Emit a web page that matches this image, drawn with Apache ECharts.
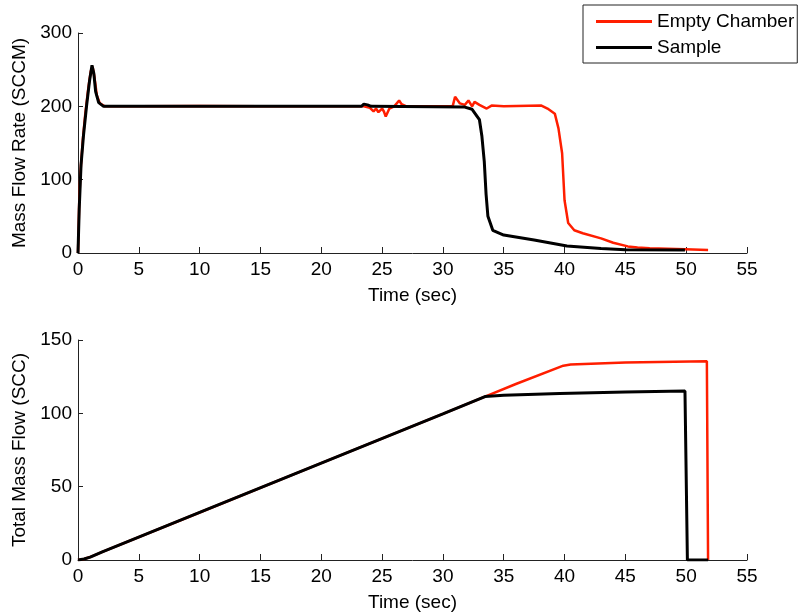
<!DOCTYPE html>
<html>
<head>
<meta charset="utf-8">
<script src="https://cdn.jsdelivr.net/npm/echarts@6/dist/echarts.min.js"></script>
<style>
  html, body { margin: 0; padding: 0; background: #fff; }
  #chart { width: 801px; height: 616px; }
</style>
</head>
<body>
<div id="chart"></div>
<script>
// Flow rate through the chamber (SCCM) versus time (sec)
const emptyRateT = [0, 0.1, 0.2, 0.4, 0.6, 0.85, 1.05, 1.2, 1.35, 1.55, 1.8, 2.2, 5, 10, 15, 20, 23.5, 24.0, 24.3, 24.5, 24.7, 24.85, 25.0, 25.15, 25.3, 25.6, 26.0, 26.4, 26.6, 27.0, 28, 30.8, 31.0, 31.4, 31.8, 32.1, 32.4, 32.6, 33.0, 33.6, 34.0, 35, 38.1, 38.6, 39.2, 39.5, 39.8, 40.0, 40.3, 40.8, 41.5, 43, 44, 45.2, 46, 47, 49.9, 51.8];
const emptyRate  = [0, 70, 110, 155, 190, 225, 248, 254, 240, 215, 204, 200, 200, 200.5, 200, 200, 200, 198, 193, 197, 192, 190, 197, 193, 186, 197, 200, 208, 203, 200, 200, 200, 213, 204, 202, 208, 200, 206, 202, 197, 201, 200, 201, 197, 190, 170, 136, 72, 41, 31, 27, 20, 14, 9, 7.5, 6.5, 5, 4];

const sampleRateT = [0, 0.1, 0.25, 0.45, 0.7, 0.95, 1.15, 1.3, 1.45, 1.7, 2.1, 10, 20, 23.3, 23.5, 23.8, 24.1, 31.8, 32.4, 33.0, 33.2, 33.4, 33.55, 33.7, 34.1, 35, 37.5, 40.2, 43, 45, 49.9];
const sampleRate  = [0, 60, 120, 160, 200, 235, 256, 245, 220, 205, 200, 200, 200, 200, 203, 202, 200, 199, 196, 182, 160, 125, 80, 50, 31, 24.5, 17.7, 9.5, 6, 4.5, 4];

// Accumulated flow (SCC) versus time (sec)
const emptyTotalT = [0, 0.5, 1, 2, 10, 20, 30, 33.46, 36, 39.9, 40.5, 45, 51.7, 51.8];
const emptyTotal  = [0, 0.7, 2, 5.5, 32.4, 66, 99.6, 111.4, 120, 132.5, 133.3, 134.6, 135.5, 0];

const sampleTotalT = [0, 0.5, 1, 2, 10, 20, 30, 33.46, 35, 39.6, 45, 49.9, 50.1, 51.8];
const sampleTotal  = [0, 0.7, 2, 5.5, 32.4, 66, 99.6, 111.4, 112.3, 113.6, 114.5, 115.2, 0, 0];

const seriesNames = ['Empty Chamber', 'Sample'];
const xTitle = 'Time (sec)';
const yTitleTop = 'Mass Flow Rate (SCCM)';
const yTitleBottom = 'Total Mass Flow (SCC)';

const RED = '#ff1e00';
const BLACK = '#000000';
const FONT = 'Liberation Sans, Arial, sans-serif';

function pairs(xs, ys) { return xs.map((x, i) => [x, ys[i]]); }

const axisText = { color: '#000', fontSize: 19, fontFamily: FONT };

function xAxisFor(idx) {
  return {
    gridIndex: idx, type: 'value', min: 0, max: 55, interval: 5,
    name: xTitle, nameLocation: 'middle', nameGap: 33,
    nameTextStyle: axisText,
    axisLine: { show: true, lineStyle: { color: '#222', width: 1 } },
    axisTick: { show: true, inside: true, length: 6, lineStyle: { color: '#222' } },
    axisLabel: Object.assign({ margin: 7 }, axisText),
    splitLine: { show: false }
  };
}

function yAxisFor(idx, max, interval, title) {
  return {
    gridIndex: idx, type: 'value', min: 0, max: max, interval: interval,
    name: title, nameLocation: 'middle', nameGap: 46,
    nameTextStyle: axisText,
    axisLine: { show: true, lineStyle: { color: '#222', width: 1 } },
    axisTick: { show: true, inside: true, length: 5, lineStyle: { color: '#222' } },
    axisLabel: Object.assign({ margin: 6 }, axisText),
    splitLine: { show: false }
  };
}

function line(name, xIdx, data, color, width, z) {
  return {
    name: name, type: 'line', xAxisIndex: xIdx, yAxisIndex: xIdx,
    data: data, symbol: 'none', smooth: false, z: z,
    lineStyle: { color: color, width: width },
    itemStyle: { color: color }
  };
}

const chart = echarts.init(document.getElementById('chart'), null, { renderer: 'canvas' });
chart.setOption({
  animation: false,
  backgroundColor: '#fff',
  grid: [
    { left: 78, top: 33, width: 669, height: 220 },
    { left: 78, top: 340, width: 669, height: 220 }
  ],
  legend: {
    data: seriesNames,
    orient: 'vertical',
    left: 583, top: 5,
    padding: [7, 3, 6, 13],
    icon: 'rect',
    itemWidth: 56, itemHeight: 3, itemGap: 7,
    backgroundColor: '#fff',
    borderColor: '#222', borderWidth: 1,
    textStyle: { color: '#000', fontSize: 19, fontFamily: FONT }
  },
  xAxis: [xAxisFor(0), xAxisFor(1)],
  yAxis: [
    yAxisFor(0, 300, 100, yTitleTop),
    yAxisFor(1, 150, 50, yTitleBottom)
  ],
  series: [
    line(seriesNames[0], 0, pairs(emptyRateT, emptyRate), RED, 2.5, 2),
    line(seriesNames[1], 0, pairs(sampleRateT, sampleRate), BLACK, 3, 3),
    line(seriesNames[0], 1, pairs(emptyTotalT, emptyTotal), RED, 2.5, 2),
    line(seriesNames[1], 1, pairs(sampleTotalT, sampleTotal), BLACK, 3, 3)
  ]
});
</script>
</body>
</html>
